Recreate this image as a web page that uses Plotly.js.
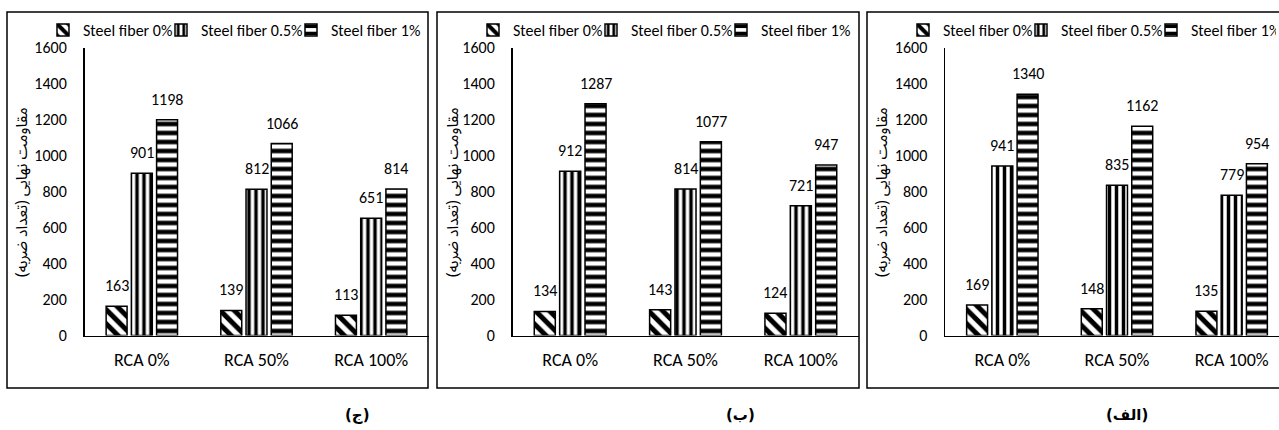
<!DOCTYPE html>
<html>
<head>
<meta charset="utf-8">
<script src="https://cdn.plot.ly/plotly-3.0.1.min.js"></script>
<style>
html,body{margin:0;padding:0;background:#fff;overflow:hidden;}
#chart{width:1279px;height:430px;}
</style>
</head>
<body>
<div id="chart"></div>
<script>
// ---------- data ----------
const categories = ['RCA 0%', 'RCA 50%', 'RCA 100%'];
const seriesNames = ['Steel fiber 0%', 'Steel fiber 0.5%', 'Steel fiber 1%'];
const yTickValues = [0, 200, 400, 600, 800, 1000, 1200, 1400, 1600];
const yTitle = 'مقاومت نهایی (تعداد ضربه)';
const panelLabels = ['(ج)', '(ب)', '(الف)'];

// panel (ج)
const jeem_fiber0 = [163, 139, 113];
const jeem_fiber05 = [901, 812, 651];
const jeem_fiber1 = [1198, 1066, 814];
// panel (ب)
const be_fiber0 = [134, 143, 124];
const be_fiber05 = [912, 814, 721];
const be_fiber1 = [1287, 1077, 947];
// panel (الف)
const alef_fiber0 = [169, 148, 135];
const alef_fiber05 = [941, 835, 779];
const alef_fiber1 = [1340, 1162, 954];

const panelData = [
  [jeem_fiber0, jeem_fiber05, jeem_fiber1],
  [be_fiber0, be_fiber05, be_fiber1],
  [alef_fiber0, alef_fiber05, alef_fiber1]
];

// ---------- layout geometry (pixels) ----------
const W = 1279, H = 430;
const FONT = 'Carlito, Lato, "Noto Sans Arabic", "DejaVu Sans", sans-serif';
const AR_FONT = '"Noto Sans Arabic", "DejaVu Sans", sans-serif';
const geom = [
  {border: [7, 428], plot: [84.5, 428.5], titleX: 22, labelX: 357, legendText: 83, legendW: [73, 85, 95]},
  {border: [437, 859], plot: [512.5, 858.5], titleX: 453, labelX: 740, legendText: 513, legendW: [73, 85, 95]},
  {border: [867, 1289], plot: [945, 1289], titleX: 882, labelX: 1127, legendText: 943, legendW: [73, 85, 80]}
];
const boxTop = 12, boxBottom = 388;
const plotTop = 47.5, plotBottom = 335.5;
const BARGAP = 0.34, BARGROUPGAP = 0.17;

const patterns = [
  {shape: '\\', size: 10, solidity: 0.5},
  {shape: '|', size: 7, solidity: 0.5},
  {shape: '-', size: 9, solidity: 0.5}
];

const px = x => x / W;
const py = y => 1 - y / H;

const traces = [], annotations = [], shapes = [];
const layout = {
  width: W, height: H,
  margin: {l: 0, r: 0, t: 0, b: 0},
  paper_bgcolor: '#fff', plot_bgcolor: '#fff',
  font: {family: FONT, size: 16, color: '#000'},
  barmode: 'group', bargap: BARGAP, bargroupgap: BARGROUPGAP,
  showlegend: true
};

geom.forEach((g, p) => {
  const sfx = p === 0 ? '' : String(p + 1);
  const xa = 'x' + sfx, ya = 'y' + sfx;
  const legendKey = 'legend' + sfx;
  const catW = (g.plot[1] - g.plot[0]) / categories.length;
  const visEnd = Math.min(g.plot[1], W);
  const rangeEnd = -0.5 + (visEnd - g.plot[0]) / catW;
  const slot = catW * (1 - BARGAP) / 3;

  panelData[p].forEach((vals, s) => {
    traces.push({
      type: 'bar', x: categories, y: vals, name: seriesNames[s],
      xaxis: xa, yaxis: ya, legend: legendKey, legendwidth: g.legendW[s],
      marker: {
        color: '#fff',
        line: {color: '#000', width: 1.5},
        pattern: {shape: patterns[s].shape, fgcolor: '#000', bgcolor: '#fff', fgopacity: 1,
                  size: patterns[s].size, solidity: patterns[s].solidity, fillmode: 'replace'}
      },
      hoverinfo: 'skip'
    });
    vals.forEach((v, i) => {
      annotations.push({
        xref: xa, yref: ya, x: categories[i], y: v,
        xshift: (s - 1) * slot, yshift: 9, yanchor: 'bottom', xanchor: 'center',
        text: String(v), showarrow: false, font: {family: FONT, size: 16, color: '#000'}
      });
    });
  });

  layout['xaxis' + sfx] = {
    domain: [px(g.plot[0]), Math.min(1, px(g.plot[1]))],
    anchor: ya, type: 'category', range: [-0.5, rangeEnd],
    showline: true, linecolor: '#000', linewidth: 1.5, ticks: '',
    showgrid: false, zeroline: false, ticklabelstandoff: 7,
    tickfont: {family: FONT, size: 18, color: '#000'}, fixedrange: true
  };
  layout['yaxis' + sfx] = {
    domain: [py(plotBottom), py(plotTop)],
    anchor: xa, range: [0, 1600], tickvals: yTickValues,
    showline: true, linecolor: '#000', linewidth: 1.5, ticks: '',
    showgrid: false, zeroline: false, ticklabelstandoff: 13,
    tickfont: {family: FONT, size: 16, color: '#000'}, fixedrange: true
  };
  layout[legendKey] = {
    orientation: 'h', x: px(g.legendText - 40), xanchor: 'left',
    y: py(30), yanchor: 'middle', bgcolor: 'rgba(0,0,0,0)',
    font: {family: FONT, size: 16, color: '#000'}, traceorder: 'normal'
  };

  shapes.push({
    type: 'rect', xref: 'paper', yref: 'paper',
    x0: px(g.border[0]), x1: px(g.border[1]), y0: py(boxBottom), y1: py(boxTop),
    line: {color: '#000', width: 1.5}, fillcolor: 'rgba(0,0,0,0)', layer: 'below'
  });
  annotations.push({
    xref: 'paper', yref: 'paper', x: px(g.titleX), y: py(192),
    text: yTitle, textangle: -90, showarrow: false, xanchor: 'center', yanchor: 'middle',
    font: {family: AR_FONT, size: 15.5, color: '#000'}
  });
  annotations.push({
    xref: 'paper', yref: 'paper', x: px(g.labelX), y: py(415),
    text: '<b>' + panelLabels[p] + '</b>', showarrow: false, xanchor: 'center', yanchor: 'middle',
    borderpad: 0, font: {family: '"DejaVu Sans", sans-serif', size: 15, color: '#000'}
  });
});

layout.annotations = annotations;
layout.shapes = shapes;

Plotly.newPlot('chart', traces, layout, {displayModeBar: false, staticPlot: true});
</script>
</body>
</html>
